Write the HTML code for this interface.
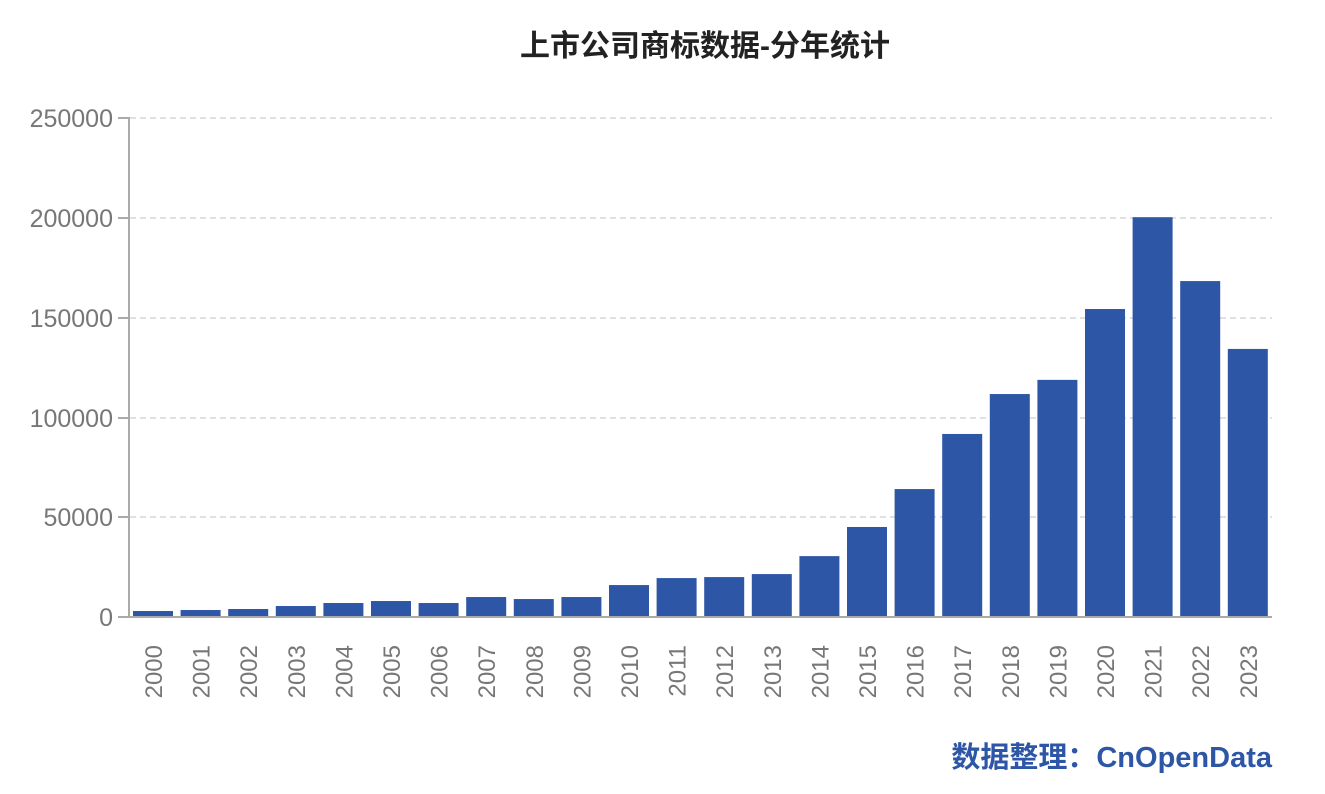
<!DOCTYPE html>
<html><head><meta charset="utf-8"><style>body{margin:0;background:#fff}</style></head><body>
<svg width="1325" height="789" xmlns="http://www.w3.org/2000/svg" font-family="Liberation Sans, Noto Sans CJK SC, sans-serif">
<text x="705" y="56" text-anchor="middle" font-size="30" font-weight="bold" fill="#222" font-family="Liberation Sans, Noto Sans CJK SC, sans-serif">上市公司商标数据-分年统计</text>
<g stroke="#d6d6d6" stroke-width="1.5" stroke-dasharray="6,4">
<line x1="130" y1="118" x2="1272" y2="118"/><line x1="130" y1="218" x2="1272" y2="218"/><line x1="130" y1="318" x2="1272" y2="318"/><line x1="130" y1="418" x2="1272" y2="418"/><line x1="130" y1="517" x2="1272" y2="517"/>
</g>
<g stroke="#aaa" stroke-width="2"><line x1="129" y1="117" x2="129" y2="618"/><line x1="118" y1="617" x2="1272" y2="617"/>
<line x1="118" y1="118" x2="129" y2="118"/><line x1="118" y1="218" x2="129" y2="218"/><line x1="118" y1="318" x2="129" y2="318"/><line x1="118" y1="418" x2="129" y2="418"/><line x1="118" y1="517" x2="129" y2="517"/></g>
<g font-size="25" fill="#777" text-anchor="end">
<text x="113" y="127">250000</text><text x="113" y="227">200000</text><text x="113" y="327">150000</text><text x="113" y="427">100000</text><text x="113" y="526">50000</text><text x="113" y="626">0</text></g>
<g fill="#2e56a6" id="bars"></g>
<g id="labels" font-size="24" fill="#777"></g>
<text x="1272" y="767" text-anchor="end" font-size="29" font-weight="bold" fill="#2e56a6">数据整理：CnOpenData</text>
<script>
var v=[2500,3000,3500,5000,6500,7500,6500,9500,8500,9500,15500,19000,19500,21000,30000,44600,63600,91200,111200,118300,153800,199800,167800,133800];
var b=document.getElementById('bars'),l=document.getElementById('labels'),ns='http://www.w3.org/2000/svg';
v.forEach(function(d,i){var x=133+i*47.6,h=d*499/250000;var r=document.createElementNS(ns,'rect');r.setAttribute('x',x);r.setAttribute('y',616-h);r.setAttribute('width',40);r.setAttribute('height',h);b.appendChild(r);
var t=document.createElementNS(ns,'text');var cx=x+20+9;t.setAttribute('transform','translate('+cx+',645) rotate(-90)');t.setAttribute('text-anchor','end');t.textContent=2000+i;l.appendChild(t);});
</script>
</svg></body></html>
